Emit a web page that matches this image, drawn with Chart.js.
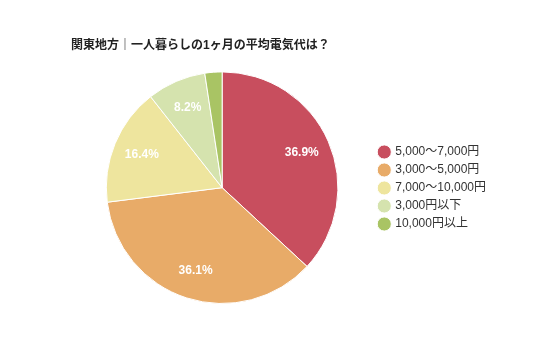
<!DOCTYPE html>
<html>
<head>
<meta charset="utf-8">
<script src="https://cdn.jsdelivr.net/npm/chart.js@4/dist/chart.umd.min.js"></script>
<style>
  html, body { margin: 0; padding: 0; background: #fff; }
  #wrap { width: 536px; height: 357px; position: relative; }
</style>
</head>
<body>
<div id="wrap"><canvas id="myChart" width="536" height="357"></canvas></div>
<script>
const title = '関東地方｜一人暮らしの1ヶ月の平均電気代は？';
const labels = ['5,000〜7,000円', '3,000〜5,000円', '7,000〜10,000円', '3,000円以下', '10,000円以上'];
const shares = [36.9, 36.1, 16.4, 8.2, 2.4];
const colors = ['#C84E5E', '#E8AB68', '#EEE59E', '#D5E3AE', '#A9C464'];

const fontFamily = "'Liberation Sans', Arial, 'Noto Sans CJK JP', sans-serif";

// draw the percent labels inside the slices
const sliceLabels = {
  id: 'sliceLabels',
  afterDatasetsDraw(chart) {
    const ctx = chart.ctx;
    const meta = chart.getDatasetMeta(0);
    ctx.save();
    ctx.fillStyle = '#fff';
    ctx.font = 'bold 12px ' + fontFamily;
    ctx.textAlign = 'center';
    ctx.textBaseline = 'middle';
    meta.data.forEach((arc, i) => {
      const v = shares[i];
      if (v < 5) return;
      const p = arc.getProps(['x', 'y', 'startAngle', 'endAngle', 'outerRadius']);
      const mid = (p.startAngle + p.endAngle) / 2;
      const r = p.outerRadius * 0.75;
      ctx.fillText(v.toFixed(1) + '%', p.x + Math.cos(mid) * r, p.y + Math.sin(mid) * r);
    });
    ctx.restore();
  }
};

// put the legend block next to the middle of the pie
const legendShift = {
  id: 'legendShift',
  afterLayout(chart) {
    const lg = chart.legend;
    const h = lg.bottom - lg.top;
    lg.top = 140;
    lg.bottom = 140 + h;
  }
};

const ctx = document.getElementById('myChart');
new Chart(ctx, {
  type: 'pie',
  data: {
    labels: labels,
    datasets: [{
      data: shares,
      backgroundColor: colors,
      borderColor: '#fff',
      borderWidth: 1
    }]
  },
  options: {
    responsive: false,
    animation: false,
    layout: { padding: { left: 71, right: 40, top: 0, bottom: 53 } },
    plugins: {
      title: {
        display: true,
        text: title,
        align: 'start',
        color: '#222',
        font: { family: fontFamily, size: 12, weight: 'bold' },
        padding: { top: 38, bottom: 19 }
      },
      legend: {
        position: 'right',
        align: 'start',
        labels: {
          usePointStyle: true,
          pointStyle: 'circle',
          boxWidth: 10,
          boxHeight: 10,
          padding: 6,
          color: '#333',
          font: { family: fontFamily, size: 12 }
        }
      },
      tooltip: { enabled: false }
    }
  },
  plugins: [sliceLabels, legendShift]
});
</script>
</body>
</html>
